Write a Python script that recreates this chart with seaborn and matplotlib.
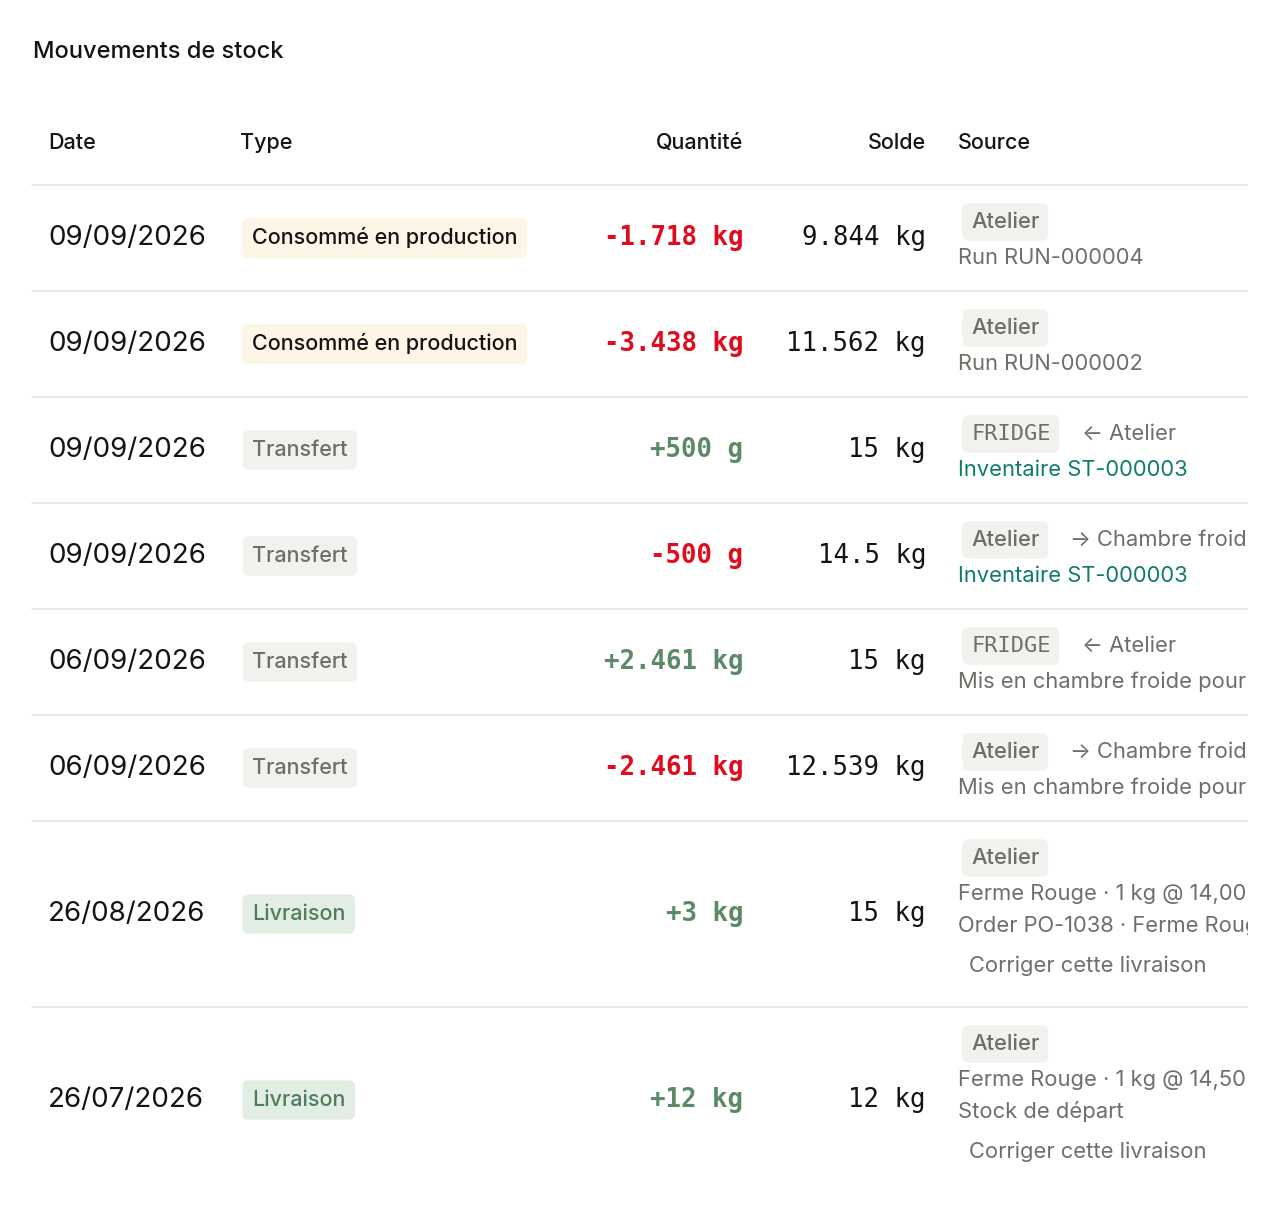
import matplotlib
matplotlib.use("Agg")
import matplotlib.pyplot as plt
import seaborn as sns

sns.set_theme(style="white")
plt.rcParams['font.family'] = ['Inter', 'DejaVu Sans']

title = "Mouvements de stock"
headers = ["Date", "Type", "Quantité", "Solde", "Source"]
dates = ["09/09/2026", "09/09/2026", "09/09/2026", "09/09/2026", "06/09/2026", "06/09/2026", "26/08/2026", "26/07/2026"]
types = ["Consommé en production", "Consommé en production", "Transfert", "Transfert", "Transfert", "Transfert", "Livraison", "Livraison"]
quantities = ["-1.718 kg", "-3.438 kg", "+500 g", "-500 g", "+2.461 kg", "-2.461 kg", "+3 kg", "+12 kg"]
soldes = ["9.844 kg", "11.562 kg", "15 kg", "14.5 kg", "15 kg", "12.539 kg", "15 kg", "12 kg"]
src_tags = ["Atelier", "Atelier", "FRIDGE", "Atelier", "FRIDGE", "Atelier", "Atelier", "Atelier"]
src_arrows = ["", "", "← Atelier", "→ Chambre froide", "← Atelier", "→ Chambre froide", "", ""]
src_lines = [["Run RUN-000004"], ["Run RUN-000002"], ["Inventaire ST-000003"], ["Inventaire ST-000003"],
             ["Mis en chambre froide pour stockage"], ["Mis en chambre froide pour stockage"],
             ["Ferme Rouge · 1 kg @ 14,00 €", "Order PO-1038 · Ferme Rouge", "Corriger cette livraison"],
             ["Ferme Rouge · 1 kg @ 14,50 €", "Stock de départ", "Corriger cette livraison"]]
row_centers = [238, 344, 450, 556, 662, 768, 914, 1100]
row_bottoms = [291, 397, 503, 609, 715, 821, 1007]

RED, GREEN, TEAL, GREY, DARK = "#e00b1c", "#5b8a66", "#0e7c6b", "#6f6e69", "#141414"
badge = {"Consommé en production": ("#fdf5e6", DARK), "Transfert": ("#f2f1ee", GREY), "Livraison": ("#e2eee3", "#4f7f5a")}

fig = plt.figure(figsize=(12.8, 12.24), dpi=100)
ax = fig.add_axes([0, 0, 1248 / 1280, 1])
ax.set_xlim(0, 1248); ax.set_ylim(1224, 0); ax.axis("off")

ax.text(33, 52, title, fontsize=17, fontweight="medium", color=DARK, va="center")
hx = [48, 240, 743, 926, 958]
ha = ["left", "left", "right", "right", "left"]
for x, h, a in zip(hx, headers, ha):
    ax.text(x, 143, h, fontsize=15.5, fontweight="medium", color=DARK, va="center", ha=a)
ax.plot([32, 1248], [185, 185], color="#e4e3e0", lw=1.2)
for yb in row_bottoms:
    ax.plot([32, 1248], [yb, yb], color="#e4e3e0", lw=1.2)

mono = "DejaVu Sans Mono"
SRC = 15.8
for i, y in enumerate(row_centers):
    ax.text(48, y, dates[i], fontsize=20, color=DARK, va="center")
    bg, fg = badge[types[i]]
    ax.text(252, y, types[i], fontsize=15.5, color=fg, va="center", fontweight="medium",
            bbox=dict(boxstyle="round,pad=0.45,rounding_size=0.3", fc=bg, ec="none"))
    q = quantities[i]
    ax.text(743, y, q, fontsize=18.5, family=mono, va="center", ha="right", fontweight="bold",
            color=RED if q.startswith("-") else GREEN)
    ax.text(926, y, soldes[i], fontsize=18.5, family=mono, va="center", ha="right", color=DARK)
    lines = src_lines[i]
    ty = y - 16 if len(lines) == 1 else y - 56
    tag = src_tags[i]
    ax.text(971, ty, tag, fontsize=SRC, va="center", color=GREY, fontweight="medium",
            family=mono if tag == "FRIDGE" else None, clip_on=True,
            bbox=dict(boxstyle="round,pad=0.4,rounding_size=0.3", fc="#f2f1ee", ec="none"))
    if src_arrows[i]:
        ax.text(1082 if tag == "FRIDGE" else 1070, ty, src_arrows[i], fontsize=SRC, color=GREY,
                va="center", clip_on=True)
    if len(lines) == 1:
        c = TEAL if lines[0].startswith("Inventaire") else GREY
        ax.text(958, y + 20, lines[0], fontsize=SRC, color=c, va="center", clip_on=True)
    else:
        ax.text(958, y - 20, lines[0], fontsize=SRC, color=GREY, va="center", clip_on=True)
        ax.text(958, y + 12, lines[1], fontsize=SRC, color=GREY, va="center", clip_on=True)
        ax.text(969, y + 52, lines[2], fontsize=SRC, color=GREY, va="center", clip_on=True)

fig.savefig("out.png", dpi=100, facecolor="white")
